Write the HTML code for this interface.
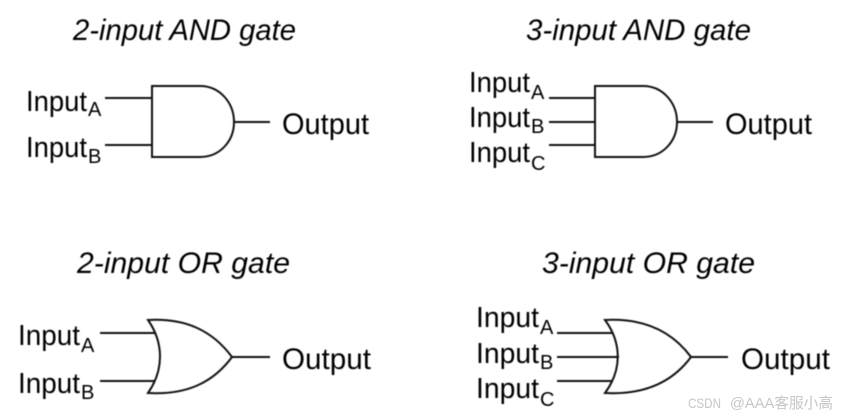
<!DOCTYPE html>
<html><head><meta charset="utf-8"><style>
html,body{margin:0;padding:0;background:#fff;width:842px;height:418px;overflow:hidden}
svg{display:block}
text{font-family:"Liberation Sans",sans-serif;fill:#000}
.t{font-size:29.5px;font-style:italic}
.l{font-size:29px}
.o{font-size:29.2px}
.s{font-size:20px}
.w{fill:none;stroke:#111;stroke-width:2}
</style></head><body>
<svg width="842" height="418" viewBox="0 0 842 418" xmlns="http://www.w3.org/2000/svg">
<g style="filter:blur(.45px)">
<text class="t" x="73" y="40" textLength="223" lengthAdjust="spacingAndGlyphs">2-input AND gate</text>
<text class="t" x="526" y="40" textLength="225" lengthAdjust="spacingAndGlyphs">3-input AND gate</text>
<text class="t" x="77" y="273" textLength="213" lengthAdjust="spacingAndGlyphs">2-input OR gate</text>
<text class="t" x="542" y="273" textLength="213" lengthAdjust="spacingAndGlyphs">3-input OR gate</text>

<path class="w" d="M152 86H200C220 86 234 103 234 122C234 141 220 157 200 157H152Z"/>
<path class="w" d="M105 98H152M105 145H152M234 122H270"/>
<text class="l" x="26" y="111" textLength="61" lengthAdjust="spacingAndGlyphs">Input</text><text class="s" x="88" y="116">A</text>
<text class="l" x="26" y="157" textLength="61" lengthAdjust="spacingAndGlyphs">Input</text><text class="s" x="88" y="163">B</text>
<text class="o" x="282" y="134" textLength="87" lengthAdjust="spacingAndGlyphs">Output</text>

<path class="w" d="M595 86H643C663 86 677 103 677 122C677 141 663 157 643 157H595Z"/>
<path class="w" d="M549 98H595M549 122H595M549 145H595M677 122H713"/>
<text class="l" x="469" y="92" textLength="61" lengthAdjust="spacingAndGlyphs">Input</text><text class="s" x="531" y="99">A</text>
<text class="l" x="469" y="127" textLength="61" lengthAdjust="spacingAndGlyphs">Input</text><text class="s" x="531" y="133">B</text>
<text class="l" x="469" y="162" textLength="61" lengthAdjust="spacingAndGlyphs">Input</text><text class="s" x="531" y="170">C</text>
<text class="o" x="725" y="134" textLength="87" lengthAdjust="spacingAndGlyphs">Output</text>

<path class="w" d="M148 320C185 318 212 330 232 357C212 384 185 395 148 393C164 370 164 343 148 320Z"/>
<path class="w" d="M100 333H155M100 381H155M232 357H270"/>
<text class="l" x="18" y="345" textLength="62" lengthAdjust="spacingAndGlyphs">Input</text><text class="s" x="81" y="352">A</text>
<text class="l" x="18" y="393" textLength="62" lengthAdjust="spacingAndGlyphs">Input</text><text class="s" x="81" y="399">B</text>
<text class="o" x="282" y="369" textLength="89" lengthAdjust="spacingAndGlyphs">Output</text>

<path class="w" d="M605 320C642 318 671 330 691 357C671 384 642 395 605 393C622 370 622 343 605 320Z"/>
<path class="w" d="M557 333H612M557 357H619M557 381H612M691 357H728"/>
<text class="l" x="476" y="327" textLength="63" lengthAdjust="spacingAndGlyphs">Input</text><text class="s" x="540" y="334">A</text>
<text class="l" x="476" y="363" textLength="63" lengthAdjust="spacingAndGlyphs">Input</text><text class="s" x="540" y="369">B</text>
<text class="l" x="476" y="398" textLength="63" lengthAdjust="spacingAndGlyphs">Input</text><text class="s" x="540" y="406">C</text>
<text class="o" x="741" y="369" textLength="89" lengthAdjust="spacingAndGlyphs">Output</text>
</g>
<text x="688" y="408" textLength="33" lengthAdjust="spacingAndGlyphs" style="font-size:14px;fill:#c6c6c6">CSDN</text>
<text x="730" y="408" textLength="103" lengthAdjust="spacingAndGlyphs" style="font-size:15px;fill:#c6c6c6;font-family:'Liberation Sans','Noto Sans CJK SC',sans-serif">@AAA客服小高</text>
</svg>
</body></html>
